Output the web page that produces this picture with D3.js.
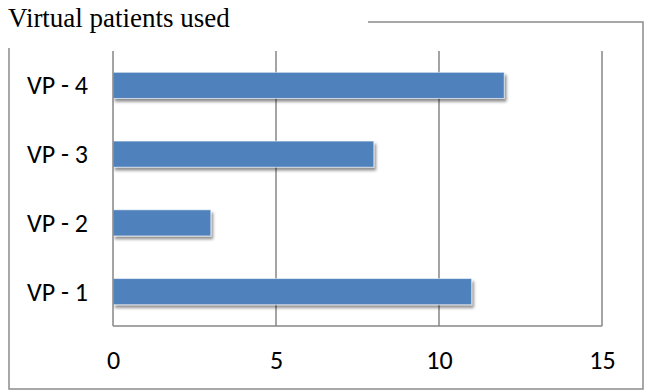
<!DOCTYPE html>
<html>
<head>
<meta charset="utf-8">
<script src="https://cdn.jsdelivr.net/npm/d3@7"></script>
<style>
  html, body { margin: 0; padding: 0; background: #fff; }
  svg { display: block; }
</style>
</head>
<body>
<svg id="chart" width="645" height="391"></svg>
<script>
// Number of uses per virtual patient
const categories = ["VP - 1", "VP - 2", "VP - 3", "VP - 4"];
const values = [11, 3, 8, 12];
const xTicks = [0, 5, 10, 15];
const title = "Virtual patients used";

const svg = d3.select("#chart");
const plot = { left: 113, right: 602, top: 51, bottom: 326 };

const x = d3.scaleLinear().domain([0, 15]).range([plot.left, plot.right]);
const y = d3.scaleBand()
  .domain(categories.slice().reverse())
  .range([plot.top, plot.bottom])
  .paddingInner(0.62)
  .paddingOuter(0.31);

// drop shadow under bars
const defs = svg.append("defs");
const f = defs.append("filter").attr("id", "shadow")
  .attr("x", "-10%").attr("y", "-30%").attr("width", "120%").attr("height", "180%");
f.append("feGaussianBlur").attr("in", "SourceAlpha").attr("stdDeviation", 1.8).attr("result", "b");
f.append("feOffset").attr("in", "b").attr("dx", 1.5).attr("dy", 3).attr("result", "o");
f.append("feComponentTransfer").attr("in", "o").attr("result", "s")
  .append("feFuncA").attr("type", "linear").attr("slope", 0.45);
const m = f.append("feMerge");
m.append("feMergeNode").attr("in", "s");
m.append("feMergeNode").attr("in", "SourceGraphic");

// outer frame (open at the top-left where the title sits)
const frame = d3.path();
frame.moveTo(368, 22);
frame.lineTo(643, 22);
frame.lineTo(643, 389);
frame.lineTo(9, 389);
frame.lineTo(9, 48);
svg.append("path").attr("d", frame.toString())
  .attr("fill", "none").attr("stroke", "#8c8c8c").attr("stroke-width", 1.5);

// title
svg.append("text")
  .attr("x", 8).attr("y", 27)
  .attr("font-family", "Liberation Serif, Times New Roman, serif")
  .attr("font-size", 27)
  .attr("fill", "#000")
  .text(title);

// vertical gridlines (including the right border at 15)
svg.append("g").selectAll("line")
  .data(xTicks.slice(1))
  .join("line")
  .attr("x1", d => x(d)).attr("x2", d => x(d))
  .attr("y1", plot.top).attr("y2", plot.bottom)
  .attr("stroke", "#868686").attr("stroke-width", 1.5);

// bars
svg.append("g").selectAll("rect")
  .data(categories.map((c, i) => ({ c, v: values[i] })))
  .join("rect")
  .attr("x", x(0))
  .attr("y", d => y(d.c))
  .attr("width", d => x(d.v) - x(0))
  .attr("height", y.bandwidth())
  .attr("fill", "#4f81bd")
  .attr("stroke", "#ffffff")
  .attr("stroke-opacity", 0.55)
  .attr("stroke-width", 1)
  .attr("filter", "url(#shadow)");

// axis lines: left and bottom
svg.append("line")
  .attr("x1", plot.left).attr("x2", plot.left)
  .attr("y1", plot.top).attr("y2", plot.bottom)
  .attr("stroke", "#868686").attr("stroke-width", 1.5);
svg.append("line")
  .attr("x1", plot.left).attr("x2", plot.right)
  .attr("y1", plot.bottom).attr("y2", plot.bottom)
  .attr("stroke", "#868686").attr("stroke-width", 1.5);

const labelFont = "Carlito, Lato, 'Open Sans', sans-serif";

// x tick labels
const xAxis = d3.axisBottom(x).tickValues(xTicks).tickSize(0).tickPadding(0);
const gx = svg.append("g").attr("transform", `translate(0, ${plot.bottom})`).call(xAxis);
gx.select(".domain").remove();
gx.selectAll("text")
  .attr("dy", 0).attr("y", 43)
  .attr("font-family", labelFont).attr("font-size", 26).attr("fill", "#000");

// y category labels
const yAxis = d3.axisLeft(y).tickSize(0).tickPadding(0);
const gy = svg.append("g").attr("transform", `translate(${plot.left}, 0)`).call(yAxis);
gy.select(".domain").remove();
gy.selectAll("text")
  .attr("x", -25).attr("dy", "0.35em")
  .attr("font-family", labelFont).attr("font-size", 26).attr("fill", "#000");
</script>
</body>
</html>
